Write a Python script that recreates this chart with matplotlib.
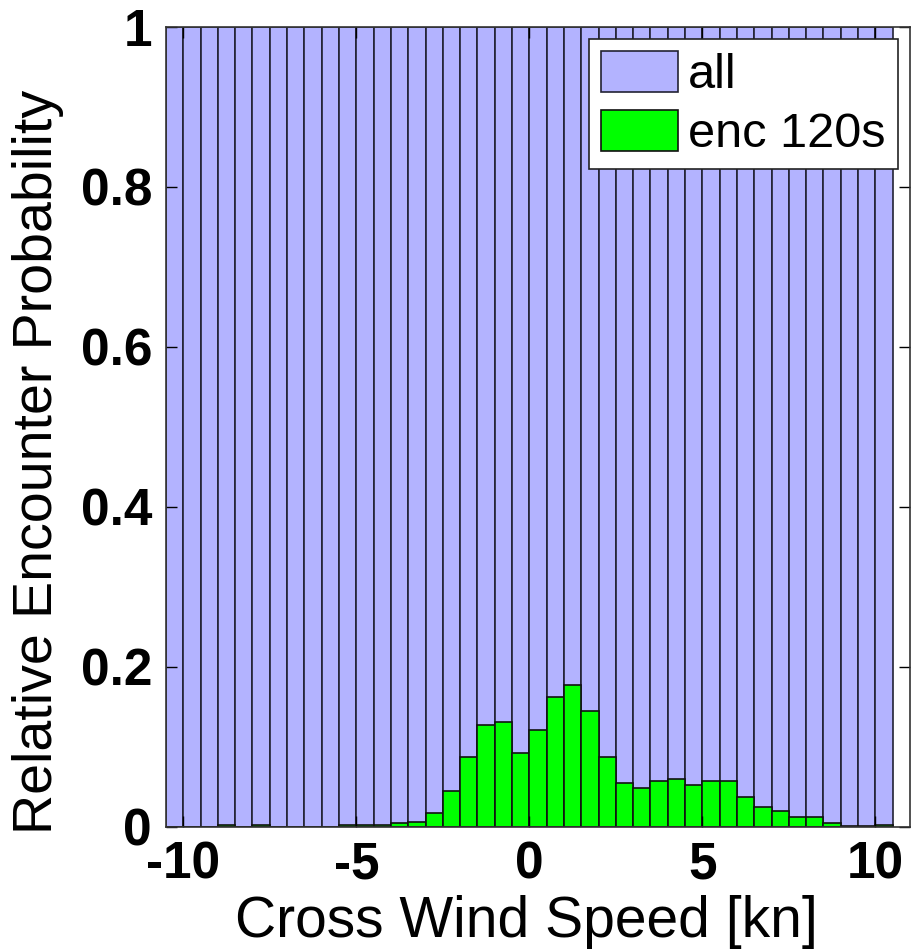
import numpy as np
import matplotlib
matplotlib.use('Agg')
import matplotlib.pyplot as plt
from matplotlib.patches import Patch

# bin centres of the cross wind speed histogram [kn], bin width 0.5
bin_centres = np.arange(-10.25, 10.5, 0.5)
bin_width = 0.5

# relative probability, all flights (normalised -> 1 everywhere)
all_prob = [1.0] * 42

# relative probability of encounters within 120 s
enc_120s = [0.000, 0.000, 0.000, 0.003, 0.000, 0.003, 0.000, 0.000, 0.000, 0.000,
            0.002, 0.002, 0.002, 0.005, 0.006, 0.017, 0.045, 0.088, 0.128, 0.131,
            0.092, 0.121, 0.163, 0.177, 0.145, 0.088, 0.055, 0.049, 0.057, 0.060,
            0.053, 0.057, 0.057, 0.038, 0.025, 0.020, 0.012, 0.012, 0.005, 0.001,
            0.001, 0.003]

purple = '#b3b3ff'
green = '#00ff00'

plt.rcParams['font.family'] = ['Liberation Sans', 'DejaVu Sans']

fig = plt.figure(figsize=(9.14, 9.49), dpi=100)
ax = fig.add_axes([0.1816, 0.1286, 0.814, 0.843])

ax.bar(bin_centres, all_prob, width=bin_width, color=purple, edgecolor='#222233', linewidth=1.2)
ax.bar(bin_centres, enc_120s, width=bin_width, color=green, edgecolor='#111111', linewidth=1.2)

ax.set_xlim(-10.5, 11)
ax.set_ylim(0, 1)
ax.set_xticks([-10, -5, 0, 5, 10])
ax.set_xticklabels(['-10', '-5', '0', '5', '10'])
ax.set_yticks([0, 0.2, 0.4, 0.6, 0.8, 1])
ax.set_yticklabels(['0', '0.2', '0.4', '0.6', '0.8', '1'])
ax.tick_params(direction='in', length=8, width=1, top=True, right=True,
               labelsize=37, pad=10)
for lab in ax.get_xticklabels() + ax.get_yticklabels():
    lab.set_fontweight('bold')
for s in ax.spines.values():
    s.set_color('#333333')
    s.set_linewidth(1.2)

ax.set_xlabel('Cross Wind Speed [kn]', fontsize=41)
ax.set_ylabel('Relative Encounter Probability', fontsize=40)
ax.xaxis.set_label_coords(0.484, -0.085)
ax.yaxis.set_label_coords(-0.137, 0.456)

handles = [Patch(facecolor=purple, edgecolor='#222233', linewidth=1.2, label='all'),
           Patch(facecolor=green, edgecolor='#111111', linewidth=1.2, label='enc 120s')]
leg = ax.legend(handles=handles, loc='upper right', fontsize=35, fancybox=False,
                framealpha=1, edgecolor='#222222', borderpad=0.25, labelspacing=0.25,
                handlelength=1.6, handleheight=0.9, handletextpad=0.2,
                borderaxespad=0.25)
leg.get_frame().set_linewidth(1.2)

fig.savefig('out.png', dpi=100)
